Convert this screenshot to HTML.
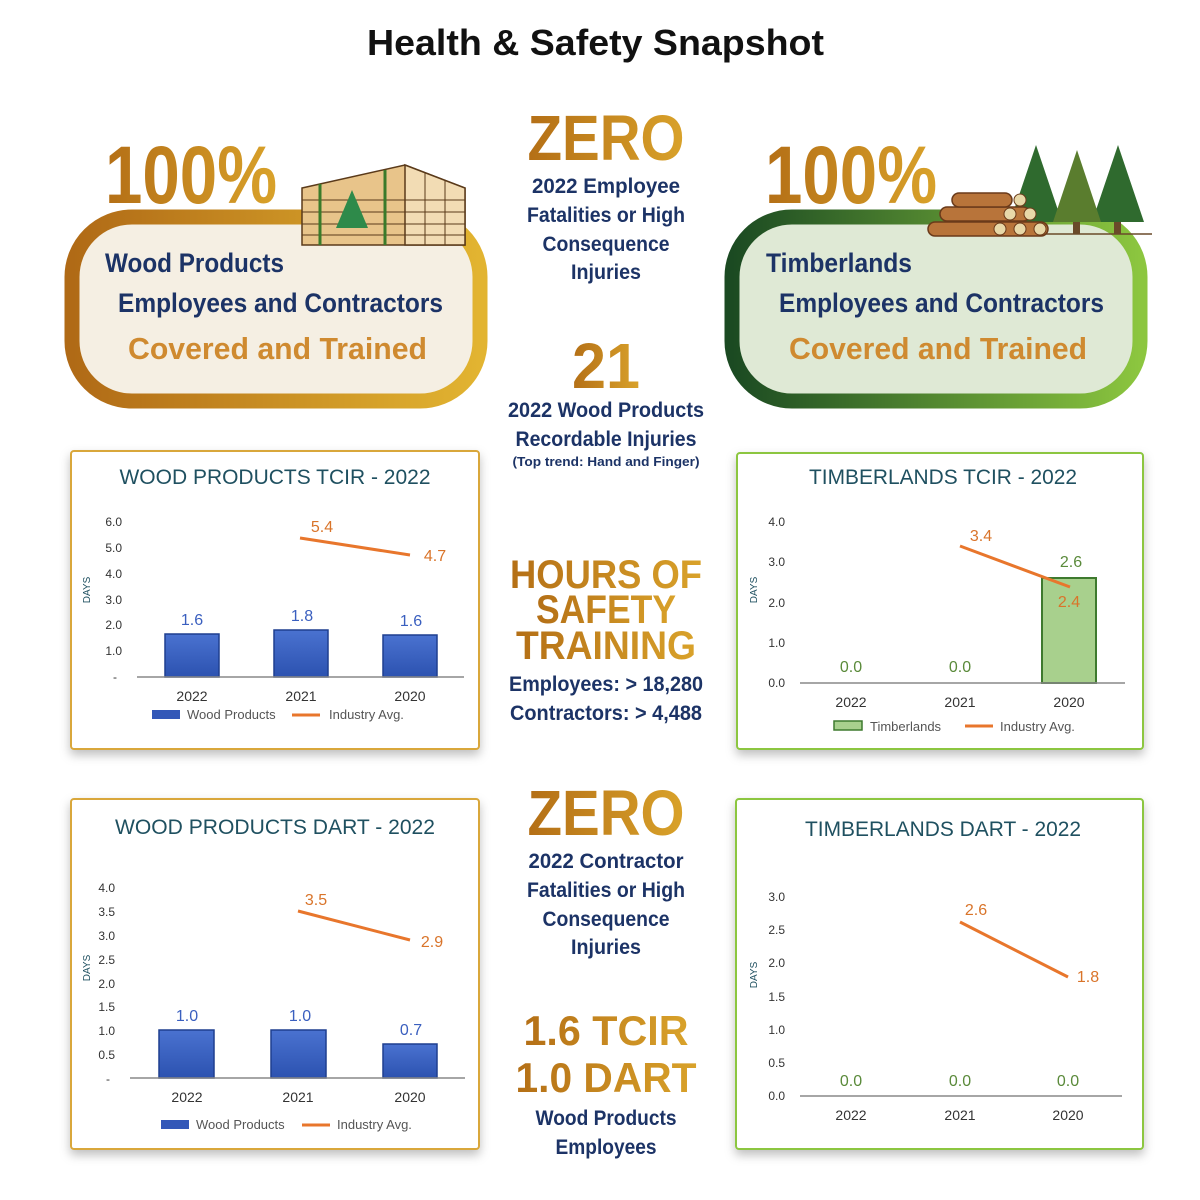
<!DOCTYPE html>
<html><head><meta charset="utf-8"><style>
html,body{margin:0;padding:0;background:#fff;}
svg{display:block;font-family:"Liberation Sans",sans-serif;}
.nv{fill:#1c3366;font-weight:bold;}
.big{font-weight:900;fill:url(#gold);}
.ct{fill:#1f5060;font-size:21px;text-anchor:middle;}
.ax{fill:#333;font-size:12px;text-anchor:end;}
.cat{fill:#333;font-size:14px;text-anchor:middle;}
.lg{fill:#555;font-size:13px;}
.vb{fill:#3a5fbf;font-size:16px;text-anchor:middle;}
.vo{fill:#d9742a;font-size:16px;text-anchor:middle;}
.vg{fill:#5a8a3a;font-size:16px;text-anchor:middle;}
</style></head><body>
<svg width="1200" height="1200" viewBox="0 0 1200 1200" xmlns="http://www.w3.org/2000/svg">
<defs>
<linearGradient id="gold" x1="0" y1="0" x2="1" y2="0"><stop offset="0" stop-color="#b46f16"/><stop offset="1" stop-color="#d9a22a"/></linearGradient>
<linearGradient id="goldb" x1="0" y1="0" x2="1" y2="0"><stop offset="0" stop-color="#b06a16"/><stop offset="1" stop-color="#e2b431"/></linearGradient>
<linearGradient id="grn" x1="0" y1="0" x2="1" y2="0"><stop offset="0" stop-color="#1b4a22"/><stop offset="1" stop-color="#8cc63f"/></linearGradient>
<linearGradient id="bar" x1="0" y1="0" x2="0" y2="1"><stop offset="0" stop-color="#4a72d0"/><stop offset="1" stop-color="#2c52b0"/></linearGradient>
<filter id="sh" x="-10%" y="-10%" width="120%" height="130%"><feDropShadow dx="0" dy="5" stdDeviation="5" flood-color="#000" flood-opacity="0.25"/></filter>
</defs>

<text x="367" y="55" font-size="36" font-weight="bold" fill="#111" textLength="457" lengthAdjust="spacingAndGlyphs">Health &amp; Safety Snapshot</text>

<!-- top left box -->
<rect x="72" y="217" width="408" height="184" rx="60" fill="#f5efe3" stroke="url(#goldb)" stroke-width="15"/>
<text x="105" y="203" class="big" font-size="82" textLength="172" lengthAdjust="spacingAndGlyphs">100%</text>
<g stroke="#5a3a1a" stroke-width="1.5">
<polygon points="302,188 405,165 465,188 465,245 302,245" fill="#e8c48a"/>
<polygon points="405,165 465,188 465,245 405,245" fill="#f2dcb4"/>
<g fill="none" stroke-width="1"><line x1="302" y1="200" x2="465" y2="200"/><line x1="302" y1="212" x2="465" y2="212"/><line x1="302" y1="224" x2="465" y2="224"/><line x1="302" y1="235" x2="465" y2="235"/><line x1="425" y1="172" x2="425" y2="245"/><line x1="445" y1="180" x2="445" y2="245"/></g>
<line x1="320" y1="184" x2="320" y2="245" stroke="#3a7a2a" stroke-width="3"/>
<line x1="385" y1="170" x2="385" y2="245" stroke="#3a7a2a" stroke-width="3"/>
</g>
<polygon points="352,190 336,228 368,228" fill="#2e8a4a"/>
<text x="105" y="272" class="nv" font-size="27" textLength="179" lengthAdjust="spacingAndGlyphs">Wood Products</text>
<text x="118" y="312" class="nv" font-size="27" textLength="325" lengthAdjust="spacingAndGlyphs">Employees and Contractors</text>
<text x="128" y="359" font-size="31" font-weight="bold" fill="#cf8a30" textLength="299" lengthAdjust="spacingAndGlyphs">Covered and Trained</text>

<!-- top right box -->
<rect x="732" y="217" width="408" height="184" rx="60" fill="#dfe9d5" stroke="url(#grn)" stroke-width="15"/>
<text x="765" y="203" class="big" font-size="82" textLength="172" lengthAdjust="spacingAndGlyphs">100%</text>
<line x1="940" y1="234" x2="1152" y2="234" stroke="#6a4a2a" stroke-width="1.5"/>
<g>
<polygon points="1036,145 1010,222 1062,222" fill="#2f6a2e"/><rect x="1032" y="222" width="7" height="12" fill="#6a4a2a"/>
<polygon points="1118,145 1092,222 1144,222" fill="#2f6a2e"/><rect x="1114" y="222" width="7" height="12" fill="#6a4a2a"/>
<polygon points="1077,150 1053,222 1101,222" fill="#5a7d2e"/><rect x="1073" y="222" width="7" height="12" fill="#6a4a2a"/>
</g>
<g fill="#b8743a" stroke="#6a3a1a" stroke-width="1.5">
<rect x="928" y="222" width="120" height="14" rx="7"/>
<rect x="940" y="207" width="90" height="14" rx="7"/>
<rect x="952" y="193" width="60" height="14" rx="7"/>
</g>
<g fill="#e8d8a8" stroke="#6a3a1a" stroke-width="1">
<circle cx="1000" cy="229" r="6"/><circle cx="1020" cy="229" r="6"/><circle cx="1040" cy="229" r="6"/>
<circle cx="1010" cy="214" r="6"/><circle cx="1030" cy="214" r="6"/><circle cx="1020" cy="200" r="6"/>
</g>
<text x="766" y="272" class="nv" font-size="27" textLength="146" lengthAdjust="spacingAndGlyphs">Timberlands</text>
<text x="779" y="312" class="nv" font-size="27" textLength="325" lengthAdjust="spacingAndGlyphs">Employees and Contractors</text>
<text x="789" y="359" font-size="31" font-weight="bold" fill="#cf8a30" textLength="298" lengthAdjust="spacingAndGlyphs">Covered and Trained</text>

<!-- middle column -->
<g text-anchor="middle">
<text x="606" y="160" class="big" font-size="64" textLength="157" lengthAdjust="spacingAndGlyphs">ZERO</text>
<text x="606" y="193" class="nv" font-size="21" textLength="148" lengthAdjust="spacingAndGlyphs">2022 Employee</text>
<text x="606" y="222" class="nv" font-size="21" textLength="158" lengthAdjust="spacingAndGlyphs">Fatalities or High</text>
<text x="606" y="251" class="nv" font-size="21" textLength="127" lengthAdjust="spacingAndGlyphs">Consequence</text>
<text x="606" y="279" class="nv" font-size="21" textLength="70" lengthAdjust="spacingAndGlyphs">Injuries</text>
<text x="606" y="388" class="big" font-size="64" textLength="68" lengthAdjust="spacingAndGlyphs">21</text>
<text x="606" y="417" class="nv" font-size="21" textLength="196" lengthAdjust="spacingAndGlyphs">2022 Wood Products</text>
<text x="606" y="446" class="nv" font-size="21" textLength="181" lengthAdjust="spacingAndGlyphs">Recordable Injuries</text>
<text x="606" y="466" class="nv" font-size="13" textLength="187" lengthAdjust="spacingAndGlyphs">(Top trend: Hand and Finger)</text>
<text x="606" y="588" class="big" font-size="40" textLength="192" lengthAdjust="spacingAndGlyphs">HOURS OF</text>
<text x="606" y="623" class="big" font-size="40" textLength="140" lengthAdjust="spacingAndGlyphs">SAFETY</text>
<text x="606" y="659" class="big" font-size="40" textLength="180" lengthAdjust="spacingAndGlyphs">TRAINING</text>
<text x="606" y="691" class="nv" font-size="21" textLength="194" lengthAdjust="spacingAndGlyphs">Employees: &gt; 18,280</text>
<text x="606" y="720" class="nv" font-size="21" textLength="192" lengthAdjust="spacingAndGlyphs">Contractors: &gt; 4,488</text>
<text x="606" y="835" class="big" font-size="64" textLength="157" lengthAdjust="spacingAndGlyphs">ZERO</text>
<text x="606" y="868" class="nv" font-size="21" textLength="155" lengthAdjust="spacingAndGlyphs">2022 Contractor</text>
<text x="606" y="897" class="nv" font-size="21" textLength="158" lengthAdjust="spacingAndGlyphs">Fatalities or High</text>
<text x="606" y="926" class="nv" font-size="21" textLength="127" lengthAdjust="spacingAndGlyphs">Consequence</text>
<text x="606" y="954" class="nv" font-size="21" textLength="70" lengthAdjust="spacingAndGlyphs">Injuries</text>
<text x="606" y="1045" class="big" font-size="42" textLength="165" lengthAdjust="spacingAndGlyphs">1.6 TCIR</text>
<text x="606" y="1092" class="big" font-size="42" textLength="181" lengthAdjust="spacingAndGlyphs">1.0 DART</text>
<text x="606" y="1125" class="nv" font-size="21" textLength="141" lengthAdjust="spacingAndGlyphs">Wood Products</text>
<text x="606" y="1154" class="nv" font-size="21" textLength="101" lengthAdjust="spacingAndGlyphs">Employees</text>
</g>

<!-- TL chart -->
<rect x="71" y="451" width="408" height="298" rx="3" fill="#fff" stroke="#d9a73a" stroke-width="2" filter="url(#sh)"/>
<text x="275" y="484" class="ct" textLength="311" lengthAdjust="spacingAndGlyphs">WOOD PRODUCTS TCIR - 2022</text>
<text transform="translate(90 590) rotate(-90)" font-size="10" fill="#1f5060" text-anchor="middle">DAYS</text>
<g class="ax"><text x="122" y="526">6.0</text><text x="122" y="552">5.0</text><text x="122" y="578">4.0</text><text x="122" y="604">3.0</text><text x="122" y="629">2.0</text><text x="122" y="655">1.0</text><text x="117" y="681">-</text></g>
<rect x="165" y="634" width="54" height="43" fill="url(#bar)" stroke="#1e3f8f" stroke-width="1.5"/>
<rect x="274" y="630" width="54" height="47" fill="url(#bar)" stroke="#1e3f8f" stroke-width="1.5"/>
<rect x="383" y="635" width="54" height="42" fill="url(#bar)" stroke="#1e3f8f" stroke-width="1.5"/>
<line x1="137" y1="677" x2="464" y2="677" stroke="#888" stroke-width="1.5"/>
<line x1="300" y1="538" x2="410" y2="555" stroke="#e8762c" stroke-width="3"/>
<text x="192" y="625" class="vb">1.6</text><text x="302" y="621" class="vb">1.8</text><text x="411" y="626" class="vb">1.6</text>
<text x="322" y="532" class="vo">5.4</text><text x="435" y="561" class="vo">4.7</text>
<g class="cat"><text x="192" y="701">2022</text><text x="301" y="701">2021</text><text x="410" y="701">2020</text></g>
<rect x="152" y="710" width="28" height="9" fill="#3358b8"/><text x="187" y="719" class="lg">Wood Products</text>
<line x1="292" y1="715" x2="320" y2="715" stroke="#e8762c" stroke-width="3"/><text x="329" y="719" class="lg">Industry Avg.</text>

<!-- TR chart -->
<rect x="737" y="453" width="406" height="296" rx="3" fill="#fff" stroke="#8cc63f" stroke-width="2" filter="url(#sh)"/>
<text x="943" y="484" class="ct" textLength="268" lengthAdjust="spacingAndGlyphs">TIMBERLANDS TCIR - 2022</text>
<text transform="translate(757 590) rotate(-90)" font-size="10" fill="#1f5060" text-anchor="middle">DAYS</text>
<g class="ax"><text x="785" y="526">4.0</text><text x="785" y="566">3.0</text><text x="785" y="607">2.0</text><text x="785" y="647">1.0</text><text x="785" y="687">0.0</text></g>
<rect x="1042" y="578" width="54" height="105" fill="#a8d08d" stroke="#3e7a2e" stroke-width="2"/>
<line x1="800" y1="683" x2="1125" y2="683" stroke="#888" stroke-width="1.5"/>
<line x1="960" y1="546" x2="1070" y2="587" stroke="#e8762c" stroke-width="3"/>
<text x="851" y="672" class="vg">0.0</text><text x="960" y="672" class="vg">0.0</text><text x="1071" y="567" class="vg">2.6</text>
<text x="981" y="541" class="vo">3.4</text><text x="1069" y="607" class="vo">2.4</text>
<g class="cat"><text x="851" y="707">2022</text><text x="960" y="707">2021</text><text x="1069" y="707">2020</text></g>
<rect x="834" y="721" width="28" height="9" fill="#a8d08d" stroke="#3e7a2e" stroke-width="1.5"/><text x="870" y="731" class="lg">Timberlands</text>
<line x1="965" y1="726" x2="993" y2="726" stroke="#e8762c" stroke-width="3"/><text x="1000" y="731" class="lg">Industry Avg.</text>

<!-- BL chart -->
<rect x="71" y="799" width="408" height="350" rx="3" fill="#fff" stroke="#d9a73a" stroke-width="2" filter="url(#sh)"/>
<text x="275" y="834" class="ct" textLength="320" lengthAdjust="spacingAndGlyphs">WOOD PRODUCTS DART - 2022</text>
<text transform="translate(90 968) rotate(-90)" font-size="10" fill="#1f5060" text-anchor="middle">DAYS</text>
<g class="ax"><text x="115" y="892">4.0</text><text x="115" y="916">3.5</text><text x="115" y="940">3.0</text><text x="115" y="964">2.5</text><text x="115" y="988">2.0</text><text x="115" y="1011">1.5</text><text x="115" y="1035">1.0</text><text x="115" y="1059">0.5</text><text x="110" y="1083">-</text></g>
<rect x="159" y="1030" width="55" height="48" fill="url(#bar)" stroke="#1e3f8f" stroke-width="1.5"/>
<rect x="271" y="1030" width="55" height="48" fill="url(#bar)" stroke="#1e3f8f" stroke-width="1.5"/>
<rect x="383" y="1044" width="54" height="34" fill="url(#bar)" stroke="#1e3f8f" stroke-width="1.5"/>
<line x1="130" y1="1078" x2="465" y2="1078" stroke="#888" stroke-width="1.5"/>
<line x1="298" y1="911" x2="410" y2="940" stroke="#e8762c" stroke-width="3"/>
<text x="187" y="1021" class="vb">1.0</text><text x="300" y="1021" class="vb">1.0</text><text x="411" y="1035" class="vb">0.7</text>
<text x="316" y="905" class="vo">3.5</text><text x="432" y="947" class="vo">2.9</text>
<g class="cat"><text x="187" y="1102">2022</text><text x="298" y="1102">2021</text><text x="410" y="1102">2020</text></g>
<rect x="161" y="1120" width="28" height="9" fill="#3358b8"/><text x="196" y="1129" class="lg">Wood Products</text>
<line x1="302" y1="1125" x2="330" y2="1125" stroke="#e8762c" stroke-width="3"/><text x="337" y="1129" class="lg">Industry Avg.</text>

<!-- BR chart -->
<rect x="736" y="799" width="407" height="350" rx="3" fill="#fff" stroke="#8cc63f" stroke-width="2" filter="url(#sh)"/>
<text x="943" y="836" class="ct" textLength="276" lengthAdjust="spacingAndGlyphs">TIMBERLANDS DART - 2022</text>
<text transform="translate(757 975) rotate(-90)" font-size="10" fill="#1f5060" text-anchor="middle">DAYS</text>
<g class="ax"><text x="785" y="901">3.0</text><text x="785" y="934">2.5</text><text x="785" y="967">2.0</text><text x="785" y="1001">1.5</text><text x="785" y="1034">1.0</text><text x="785" y="1067">0.5</text><text x="785" y="1100">0.0</text></g>
<line x1="800" y1="1096" x2="1122" y2="1096" stroke="#888" stroke-width="1.5"/>
<line x1="960" y1="922" x2="1068" y2="977" stroke="#e8762c" stroke-width="3"/>
<text x="851" y="1086" class="vg">0.0</text><text x="960" y="1086" class="vg">0.0</text><text x="1068" y="1086" class="vg">0.0</text>
<text x="976" y="915" class="vo" font-size="14">2.6</text><text x="1088" y="982" class="vo" font-size="14">1.8</text>
<g class="cat"><text x="851" y="1120">2022</text><text x="960" y="1120">2021</text><text x="1068" y="1120">2020</text></g>
</svg>
</body></html>
